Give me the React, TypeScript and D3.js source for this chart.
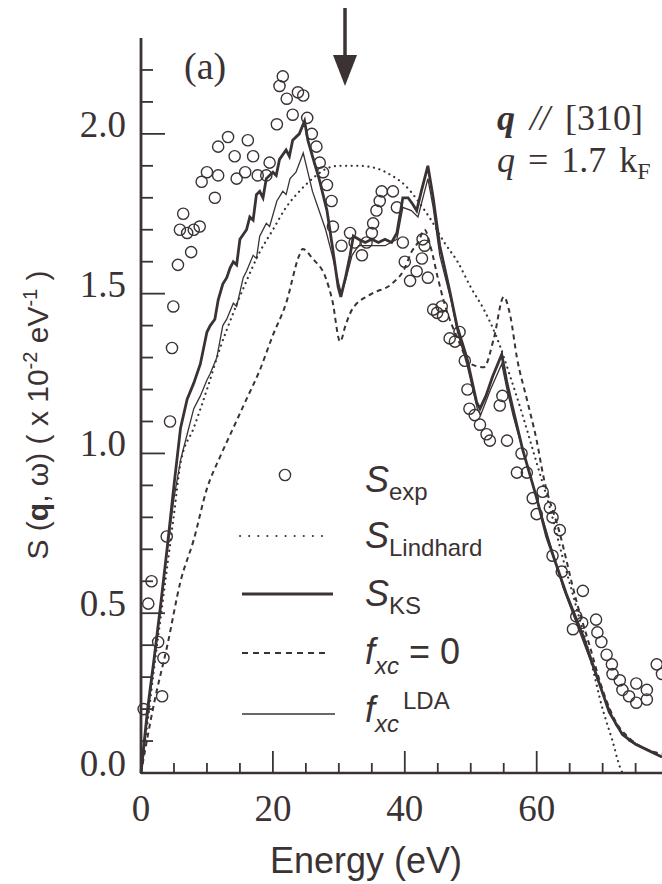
import * as React from 'react';
import * as d3 from 'd3';

const W = 662;
const H = 884;
const ink = '#3b3333';

// experimental points S_exp (energy in eV, S in 1e-2 / eV)
const expE = [0.4, 1.1, 1.6, 2.6, 3.2, 3.4, 3.9, 4.4, 4.7, 4.9, 5.6, 5.9, 6.4, 7.0, 7.6, 8.0, 8.9, 9.2, 10.0, 11.2,
  11.7, 11.7, 13.2, 14.2, 14.5, 15.8, 16.2, 17.0, 17.7, 19.0, 19.5, 20.6, 21.0, 21.5, 22.1, 23.0, 23.8, 24.6, 25.2, 25.9,
  26.6, 27.1, 27.6, 28.2, 28.9, 29.1, 30.4, 31.7, 32.4, 33.5, 34.2, 35.0, 35.2, 35.7, 36.2, 36.5, 38.2, 38.8, 39.7, 40.0,
  40.8, 41.8, 42.6, 42.7, 43.0, 43.5, 44.3, 44.9, 45.6, 45.8, 46.8, 47.6, 48.3, 49.1, 49.5, 49.8, 50.6, 51.4, 52.4, 52.9,
  54.4, 54.8, 55.5, 57.0, 57.7, 58.5, 59.4, 60.0, 60.9, 62.0, 62.4, 63.5, 62.4, 63.8, 65.5, 66.0, 66.9, 67.0, 69.0, 69.2,
  69.8, 70.6, 71.4, 71.5, 72.6, 73.0, 74.0, 75.1, 75.1, 76.7, 76.7, 78.2, 79.0];
const expS = [0.20, 0.53, 0.60, 0.41, 0.24, 0.36, 0.74, 1.10, 1.33, 1.46, 1.59, 1.70, 1.75, 1.69, 1.63, 1.70, 1.71, 1.85, 1.88, 1.80,
  1.87, 1.96, 1.99, 1.93, 1.86, 1.88, 1.98, 1.93, 1.87, 1.87, 1.91, 2.03, 2.15, 2.18, 2.11, 2.06, 2.13, 2.12, 2.05, 2.00,
  1.96, 1.91, 1.88, 1.84, 1.79, 1.71, 1.65, 1.69, 1.66, 1.62, 1.66, 1.69, 1.72, 1.76, 1.79, 1.82, 1.82, 1.77, 1.66, 1.60,
  1.54, 1.57, 1.61, 1.67, 1.65, 1.55, 1.45, 1.44, 1.46, 1.43, 1.36, 1.35, 1.38, 1.29, 1.20, 1.14, 1.12, 1.09, 1.06, 1.04,
  1.15, 1.18, 1.04, 0.94, 1.00, 0.94, 0.86, 0.81, 0.88, 0.83, 0.80, 0.76, 0.68, 0.63, 0.45, 0.49, 0.47, 0.57, 0.48, 0.44,
  0.41, 0.37, 0.34, 0.31, 0.29, 0.26, 0.24, 0.28, 0.22, 0.26, 0.23, 0.34, 0.31];

// S_KS (thick solid)
const ksE = [0, 0.5, 1, 2, 3, 4, 5, 6, 7, 8, 9, 10, 10.5, 11.2, 11.7, 12.4, 13, 13.5, 14, 14.5, 15, 16, 16.5, 17, 17.5,
  18, 18.5, 19, 20, 20.5, 21, 22, 22.5, 23, 24, 24.8, 25.3, 26, 27, 28.2, 29, 29.9, 30.3, 31, 31.7, 32.2, 33, 34, 35,
  36, 37, 38, 38.8, 39.7, 40.5, 41.2, 41.8, 42.5, 43.5, 44.3, 45.3, 46.8, 47.9, 49.4, 50.9, 51.4, 52.3, 53.3, 54.7, 55.5,
  56.4, 57.9, 60, 61.5, 62.5, 64.5, 67, 69, 71, 73, 75, 77, 79];
const ksS = [0, 0.10, 0.20, 0.36, 0.53, 0.71, 0.90, 1.08, 1.17, 1.22, 1.28, 1.38, 1.40, 1.42, 1.48, 1.53, 1.55, 1.58, 1.60, 1.59, 1.67, 1.70, 1.74, 1.73, 1.81,
  1.82, 1.80, 1.86, 1.88, 1.87, 1.92, 1.95, 1.93, 1.98, 2.00, 2.04, 1.98, 1.93, 1.86, 1.76, 1.65, 1.52, 1.49, 1.55, 1.62, 1.68, 1.67, 1.66, 1.67,
  1.66, 1.67, 1.66, 1.69, 1.80, 1.80, 1.78, 1.76, 1.82, 1.90, 1.80, 1.65, 1.51, 1.40, 1.30, 1.16, 1.14, 1.18, 1.24, 1.31, 1.22,
  1.14, 1.01, 0.86, 0.74, 0.68, 0.56, 0.43, 0.31, 0.19, 0.12, 0.09, 0.07, 0.05];

// f_xc LDA (thin solid)
const ldaE = [0, 1, 2, 3, 4, 5, 6, 7, 8, 9, 10, 10.5, 11.5, 12.4, 13, 14, 14.5, 15.5, 16, 17, 17.5, 18, 19, 19.5, 20.6,
  21.5, 22, 22.6, 23.5, 24.6, 25.3, 26, 27, 28, 29, 30, 30.4, 31, 32, 33, 35, 37, 38.8, 39.7, 41, 42, 43.5, 44.3, 45.3,
  47, 48, 49.4, 51, 51.5, 53, 54.7, 55.5, 56.4, 58, 60, 62, 64, 66, 68, 70, 72, 74, 76, 79];
const ldaS = [0, 0.18, 0.35, 0.52, 0.70, 0.86, 0.98, 1.06, 1.14, 1.18, 1.23, 1.25, 1.30, 1.40, 1.42, 1.47, 1.46, 1.55, 1.57, 1.62, 1.61, 1.68, 1.72, 1.71, 1.79,
  1.82, 1.81, 1.86, 1.88, 1.94, 1.88, 1.82, 1.76, 1.70, 1.62, 1.53, 1.50, 1.54, 1.62, 1.65, 1.65, 1.65, 1.67, 1.77, 1.76, 1.74, 1.86, 1.77, 1.62,
  1.48, 1.38, 1.28, 1.14, 1.12, 1.20, 1.28, 1.20, 1.12, 1.00, 0.86, 0.72, 0.58, 0.47, 0.36, 0.25, 0.15, 0.10, 0.08, 0.05];

// f_xc = 0 (dashed)
const rpaE = [0, 2, 4, 6, 8, 10, 12, 14, 16, 18, 20, 22, 24, 24.5, 26, 28, 29, 30.2, 31, 32, 35, 38, 40, 41, 42, 43,
  44, 45, 46, 48, 50, 52, 53.5, 55, 56, 57, 58.5, 60, 61, 63.5, 66, 68, 70, 72, 74, 76, 79];
const rpaS = [0, 0.22, 0.40, 0.60, 0.73, 0.89, 0.99, 1.08, 1.17, 1.26, 1.37, 1.47, 1.62, 1.64, 1.61, 1.55, 1.48, 1.35, 1.40, 1.45, 1.50, 1.53, 1.58, 1.63, 1.66, 1.70,
  1.64, 1.55, 1.47, 1.36, 1.28, 1.27, 1.36, 1.49, 1.43, 1.30, 1.17, 1.04, 0.93, 0.75, 0.54, 0.40, 0.26, 0.16, 0.11, 0.08, 0.06];

// S_Lindhard (dotted)
const linE = [0, 1, 2, 3, 4, 5, 6, 8, 10, 12, 14, 16, 18, 20, 22, 24, 26, 28, 30, 33, 36, 38, 40, 42, 44, 46, 48, 50,
  52, 54, 56, 58, 60, 62, 64, 66, 68, 70, 71.5, 72.6, 73];
const linS = [0, 0.16, 0.33, 0.49, 0.65, 0.81, 0.97, 1.08, 1.20, 1.33, 1.44, 1.54, 1.63, 1.70, 1.77, 1.82, 1.86, 1.89, 1.90, 1.90, 1.89, 1.87, 1.84, 1.79, 1.73, 1.66, 1.60, 1.52,
  1.45, 1.36, 1.24, 1.11, 0.97, 0.83, 0.67, 0.52, 0.37, 0.20, 0.10, 0.02, 0];

const xMinor = d3.range(5, 80, 5);
const xMajor = [0, 20, 40, 60];
const yMinor = d3.range(1, 23).map(i => i / 10);
const yMajor = [0, 0.5, 1.0, 1.5, 2.0];

const zip = (a: number[], b: number[]) => a.map((v, i) => [v, b[i]] as [number, number]);

const App = () => {
  const x = d3.scaleLinear().domain([0, 79]).range([141, 662]);
  const y = d3.scaleLinear().domain([0, 2.3]).range([773, 38]);

  const jag = d3.line<[number, number]>().x(d => x(d[0])).y(d => y(d[1]));
  const smooth = d3.line<[number, number]>().x(d => x(d[0])).y(d => y(d[1])).curve(d3.curveMonotoneX);

  const serif = 'Liberation Serif, Times New Roman, serif';
  const sans = 'Liberation Sans, Arial, sans-serif';

  return (
    <div style={{ position: 'absolute', left: 0, top: 0 }}>
      <svg width={W} height={H} style={{ display: 'block', background: '#fff' }}>
        {/* curves */}
        <path d={smooth(zip(linE, linS)) || ''} fill="none" stroke={ink} strokeWidth={2.2} strokeDasharray="0.1,5.5" strokeLinecap="round" />
        <path d={smooth(zip(rpaE, rpaS)) || ''} fill="none" stroke={ink} strokeWidth={2} strokeDasharray="5,4" />
        <path d={jag(zip(ldaE, ldaS)) || ''} fill="none" stroke={ink} strokeWidth={1.3} />
        <path d={jag(zip(ksE, ksS)) || ''} fill="none" stroke={ink} strokeWidth={2.8} />

        {/* experiment */}
        {expE.map((e, i) => (
          <circle key={i} cx={x(e)} cy={y(expS[i])} r={5.6} fill="none" stroke={ink} strokeWidth={1.4} />
        ))}

        {/* axes */}
        <line x1={x(0)} x2={W} y1={y(0)} y2={y(0)} stroke={ink} strokeWidth={2.6} />
        <line x1={x(0)} x2={x(0)} y1={y(0)} y2={y(2.3)} stroke={ink} strokeWidth={2.8} />
        {xMinor.map(v => (
          <line key={'xt' + v} x1={x(v)} x2={x(v)} y1={y(0)} y2={y(0) - (v % 20 === 0 ? 22 : 10)} stroke={ink} strokeWidth={1.8} />
        ))}
        {yMinor.map(v => (
          <line key={'yt' + v} x1={x(0)} x2={x(0) + (Math.round(v * 10) % 5 === 0 ? 24 : 12)} y1={y(v)} y2={y(v)} stroke={ink} strokeWidth={1.8} />
        ))}
        {xMajor.map(v => (
          <text key={'xl' + v} x={x(v)} y={821} textAnchor="middle" fontFamily={serif} fontSize={37} fill={ink}>{v}</text>
        ))}
        {yMajor.map(v => (
          <text key={'yl' + v} x={126} y={y(v) + 3} textAnchor="end" fontFamily={serif} fontSize={37} fill={ink}>{v.toFixed(1)}</text>
        ))}

        <text x={366} y={873} textAnchor="middle" fontFamily={sans} fontSize={36} fill={ink}>Energy (eV)</text>
        <text transform="translate(48,415) rotate(-90)" textAnchor="middle" fontFamily={sans} fontSize={30} fill={ink}>
          S (<tspan fontWeight="bold">q</tspan>, ω) ( x 10<tspan dy={-11} fontSize={20}>-2</tspan>
          <tspan dy={11}> eV</tspan><tspan dy={-11} fontSize={20}>-1</tspan><tspan dy={11}> )</tspan>
        </text>

        {/* annotations */}
        <text x={184} y={79} fontFamily={serif} fontSize={38} fill={ink}>(a)</text>
        <line x1={345} x2={345} y1={8} y2={62} stroke={ink} strokeWidth={3.5} />
        <path d="M333,55 L357,55 L345,86 Z" fill={ink} />
        <text x={497} y={130} fontFamily={serif} fontSize={36} wordSpacing={6} fill={ink}>
          <tspan fontWeight="bold" fontStyle="italic">q</tspan> <tspan fontStyle="italic">//</tspan> [310]
        </text>
        <text x={497} y={172} fontFamily={serif} fontSize={36} wordSpacing={4} fill={ink}>
          <tspan fontStyle="italic">q</tspan> = 1.7 k<tspan dy={7} fontSize={24}>F</tspan>
        </text>

        {/* legend */}
        <circle cx={285} cy={475} r={5.6} fill="none" stroke={ink} strokeWidth={1.4} />
        <line x1={240} x2={328} y1={536} y2={536} stroke={ink} strokeWidth={2} strokeDasharray="0.1,9" strokeLinecap="round" />
        <line x1={242} x2={333} y1={594} y2={594} stroke={ink} strokeWidth={2.8} />
        <line x1={242} x2={330} y1={653} y2={653} stroke={ink} strokeWidth={2} strokeDasharray="6,5" />
        <line x1={242} x2={335} y1={714} y2={714} stroke={ink} strokeWidth={1.3} />

        <text x={365} y={492} fontFamily={sans} fontSize={36} fill={ink}>
          <tspan fontStyle="italic">S</tspan><tspan dy={8} fontSize={24}>exp</tspan>
        </text>
        <text x={365} y={548} fontFamily={sans} fontSize={36} fill={ink}>
          <tspan fontStyle="italic">S</tspan><tspan dy={8} fontSize={24}>Lindhard</tspan>
        </text>
        <text x={365} y={606} fontFamily={sans} fontSize={36} fill={ink}>
          <tspan fontStyle="italic">S</tspan><tspan dy={8} fontSize={24}>KS</tspan>
        </text>
        <text x={365} y={664} fontFamily={sans} fontSize={36} fill={ink}>
          <tspan fontStyle="italic">f</tspan><tspan dy={10} fontSize={24} fontStyle="italic">xc</tspan>
          <tspan dy={-10}> = 0</tspan>
        </text>
        <text x={365} y={722} fontFamily={sans} fontSize={36} fill={ink}>
          <tspan fontStyle="italic">f</tspan><tspan dy={10} fontSize={24} fontStyle="italic">xc</tspan>
          <tspan dx={4} dy={-23} fontSize={24}>LDA</tspan>
        </text>
      </svg>
    </div>
  );
};

export default App;
